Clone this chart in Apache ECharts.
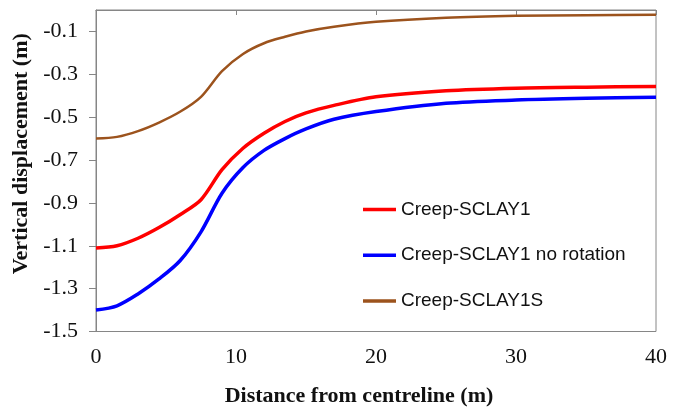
<!DOCTYPE html>
<html>
<head>
<meta charset="utf-8">
<script src="https://cdn.jsdelivr.net/npm/echarts@6/dist/echarts.min.js"></script>
<style>
html,body{margin:0;padding:0;background:#fff;}
#chart{width:682px;height:408px;}
</style>
</head>
<body>
<div id="chart"></div>
<script>
const distances = [0, 1.5, 3, 4.5, 6, 7.5, 9, 10.5, 12, 13.5, 15, 17, 20, 25, 30, 35, 40];
const creepSclay1 = [-1.11, -1.10, -1.065, -1.015, -0.955, -0.885, -0.745, -0.645, -0.575, -0.52, -0.48, -0.445, -0.405, -0.377, -0.365, -0.36, -0.357];
const creepNoRotation = [-1.40, -1.38, -1.325, -1.255, -1.17, -1.035, -0.855, -0.735, -0.655, -0.60, -0.555, -0.51, -0.474, -0.435, -0.42, -0.412, -0.407];
const creepSclay1S = [-0.60, -0.592, -0.565, -0.525, -0.475, -0.405, -0.285, -0.205, -0.155, -0.125, -0.10, -0.078, -0.055, -0.036, -0.027, -0.024, -0.022];
const seriesNames = ['Creep-SCLAY1', 'Creep-SCLAY1 no rotation', 'Creep-SCLAY1S'];
const xTitle = 'Distance from centreline (m)';
const yTitle = 'Vertical displacement (m)';

function pairs(ys){ return distances.map((x,i)=>[x, ys[i]]); }

const chart = echarts.init(document.getElementById('chart'), null, {renderer:'canvas'});
const axisColor = '#868686';
const serif = '"Liberation Serif", "Times New Roman", serif';
const brown = '#9c531d';
chart.setOption({
  animation: false,
  backgroundColor: '#ffffff',
  grid: {left: 96, right: 26, top: 10, bottom: 76.5, outerBoundsMode: 'none', containLabel: false,
    show: true, borderColor: axisColor, borderWidth: 1, backgroundColor: 'transparent'},
  legend: {
    orient: 'vertical', left: 363, top: 200, padding: 0, itemWidth: 33, itemHeight: 3.5, itemGap: 26.7,
    icon: 'rect',
    textStyle: {fontFamily: '"Liberation Sans", Arial, sans-serif', fontSize: 19, color: '#111'},
    data: seriesNames
  },
  xAxis: [{
    type: 'value', min: 0, max: 40, interval: 10, position: 'bottom',
    axisLine: {show: false}, axisTick: {show: false}, splitLine: {show: false},
    axisLabel: {fontFamily: serif, fontSize: 22, color: '#111', margin: 15},
    name: xTitle, nameLocation: 'middle', nameGap: 54,
    nameTextStyle: {fontFamily: serif, fontSize: 22, fontWeight: 'bold', color: '#111', padding: [0, 34, 0, 0]}
  }, {
    type: 'value', min: 0, max: 40, interval: 10, position: 'top',
    axisLine: {show: true, lineStyle: {color: axisColor}}, axisTick: {show: true, inside: true, length: 5, lineStyle: {color: axisColor}},
    axisLabel: {show: false}, splitLine: {show: false}
  }],
  yAxis: {
    type: 'value', min: -1.5, max: 0, interval: 0.2,
    axisLine: {show: true, lineStyle: {color: axisColor}},
    axisTick: {show: true, length: 7, lineStyle: {color: axisColor}},
    splitLine: {show: false},
    axisLabel: {fontFamily: serif, fontSize: 22, color: '#111', margin: 18, showMaxLabel: false,
      formatter: v => v.toFixed(1)},
    name: yTitle, nameLocation: 'middle', nameGap: 62, nameRotate: 90,
    nameTextStyle: {fontFamily: serif, fontSize: 22, fontWeight: 'bold', color: '#111', padding: [0, 0, 0, 34]}
  },
  series: [
    {name: seriesNames[0], type: 'line', data: pairs(creepSclay1), symbol: 'none', smooth: 0.3, lineStyle: {color: '#ff0000', width: 3.5}, itemStyle: {color: '#ff0000'}},
    {name: seriesNames[1], type: 'line', data: pairs(creepNoRotation), symbol: 'none', smooth: 0.3, lineStyle: {color: '#0000ff', width: 3.5}, itemStyle: {color: '#0000ff'}},
    {name: seriesNames[2], type: 'line', data: pairs(creepSclay1S), symbol: 'none', smooth: 0.3, lineStyle: {color: brown, width: 2.5}, itemStyle: {color: brown}}
  ]
});
</script>
</body>
</html>
